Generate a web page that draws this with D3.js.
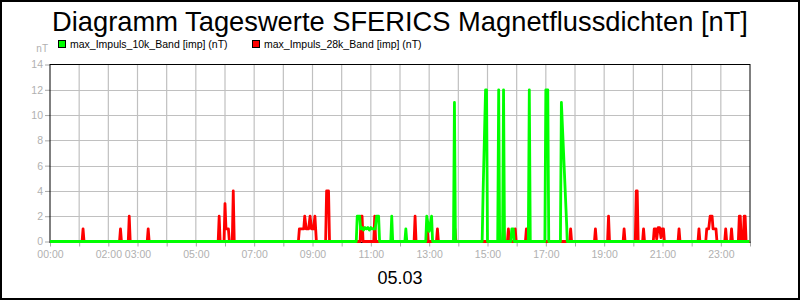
<!DOCTYPE html>
<html>
<head>
<meta charset="utf-8">
<script src="https://cdn.jsdelivr.net/npm/d3@7"></script>
<style>
  html, body { margin: 0; padding: 0; background: #fff; }
  svg { display: block; font-family: "Liberation Sans", Arial, sans-serif; }
</style>
</head>
<body>
<svg id="chart" width="800" height="300"></svg>
<script>
// ---------------- data ----------------
const chartTitle = "Diagramm Tageswerte SFERICS Magnetflussdichten [nT]";
const dateLabel = "05.03";
const unitLabel = "nT";
const seriesNames = ["max_Impuls_10k_Band [imp] (nT)", "max_Impuls_28k_Band [imp] (nT)"];
const seriesColors = ["#00ff00", "#ff0000"];
const yTicks = [0, 2, 4, 6, 8, 10, 12, 14];
const xTickLabels = ["00:00", "02:00", "03:00", "05:00", "07:00", "09:00", "11:00", "13:00", "15:00", "17:00", "19:00", "21:00", "23:00"];

// max_Impuls_10k_Band (green)
const times10k = ["00:00",
  "10:30","10:32","10:37","10:39","10:42","10:45","10:48","10:51","10:54","10:57","11:00","11:03","11:09","11:12","11:16","11:18",
  "11:41","11:43","11:45",
  "12:10","12:12","12:14",
  "12:53","12:55","13:00","13:05","13:07",
  "13:50","13:52","13:54",
  "14:49","14:51","14:56","14:58","15:00",
  "15:21","15:23","15:25",
  "15:31","15:33","15:35",
  "15:48","15:50","15:53","15:55",
  "16:24","16:26","16:28",
  "16:58","17:00","17:04","17:06",
  "17:30","17:32","17:43","17:44",
  "23:59"];
const values10k = [0,
  0,2,2,1,1.1,0.9,1.1,1,1.1,0.9,1.1,1,1,2,2,0,
  0,2,0,
  0,1,0,
  0,2,0.8,2,0,
  0,11,0,
  0,4,12,12,0,
  0,12,0,
  0,12,0,
  0,1,1,0,
  0,12,0,
  0,12,12,0,
  0,11,1.2,0,
  0];

// max_Impuls_28k_Band (red)
const times28k = ["00:00",
  "01:06","01:08","01:10",
  "02:23","02:25","02:27",
  "02:41","02:43","02:45",
  "03:20","03:22","03:24",
  "05:46","05:48","05:50",
  "05:58","06:00","06:02","06:07","06:09",
  "06:15","06:17","06:19",
  "08:31","08:33","08:42","08:44","08:47","08:52","08:55","08:58","09:02","09:05","09:08",
  "09:27","09:29","09:33","09:35",
  "10:38","10:40","10:42","10:44",
  "11:06","11:08","11:10",
  "12:29","12:31","12:33",
  "12:54","12:56","12:58",
  "13:15","13:17","13:19",
  "13:51","13:53","13:55",
  "15:31","15:33","15:35",
  "15:41","15:43","15:45",
  "15:55","15:57","15:59",
  "16:18","16:20","16:22",
  "17:49","17:51","17:53",
  "18:40","18:42","18:44",
  "19:07","19:09","19:11",
  "19:39","19:41","19:43",
  "20:04","20:06","20:08","20:10",
  "20:19","20:21","20:23",
  "20:41","20:43","20:46","20:48","20:51","20:54","20:57","20:59","21:02","21:04",
  "21:32","21:34","21:36",
  "22:13","22:15","22:17",
  "22:29","22:31","22:35","22:38","22:42","22:44","22:50","22:52",
  "23:08","23:10","23:12",
  "23:20","23:22","23:24",
  "23:36","23:38","23:40","23:42",
  "23:46","23:48","23:50","23:52",
  "23:59"];
const values28k = [0,
  0,1,0,
  0,1,0,
  0,2,0,
  0,1,0,
  0,2,0,
  0,3,1,1,0,
  0,4,0,
  0,1,1,2,1,1,2,1,1,2,0,
  0,4,4,0,
  0,2,2,0,
  0,2,0,
  0,2,0,
  0,1,0,
  0,1,0,
  0,1,0,
  0,1,0,
  0,1,0,
  0,1,0,
  0,1,0,
  0,1,0,
  0,1,0,
  0,2,0,
  0,1,0,
  0,4,4,0,
  0,1,0,
  0,1,1,0.2,1.1,1.1,0.3,1,1,0,
  0,1,0,
  0,1,0,
  0,1,1,2,2,1,1,0,
  0,1,0,
  0,1,0,
  0,2,2,0,
  0,2,2,0,
  0];

// ---------------- drawing ----------------
const W = 800, H = 300;
const plot = { left: 50, right: 750, top: 64.5, bottom: 241.5 };
const svg = d3.select("#chart");
const parseT = d3.timeParse("%H:%M");
const day0 = parseT("00:00");
const day1 = d3.timeDay.offset(day0, 1);

const x = d3.scaleTime().domain([day0, day1]).range([plot.left, plot.right]);
const y = d3.scaleLinear().domain([0, 14]).range([plot.bottom, plot.top]);

svg.append("rect").attr("x", 0).attr("y", 0).attr("width", W).attr("height", H).attr("fill", "#fff");

// title
svg.append("text").attr("x", 400).attr("y", 31).attr("text-anchor", "middle")
  .attr("font-size", 27.3).attr("fill", "#000").text(chartTitle);

// legend
const legendX = [58.5, 252.5];
seriesNames.forEach((name, i) => {
  svg.append("rect").attr("x", legendX[i]).attr("y", 40.5).attr("width", 7).attr("height", 7)
    .attr("fill", seriesColors[i]).attr("stroke", "#000").attr("stroke-width", 1);
  svg.append("text").attr("x", legendX[i] + 11.5).attr("y", 47.5).attr("font-size", 10.5)
    .attr("fill", "#000").text(name);
});

// unit label
svg.append("text").attr("x", 48).attr("y", 51.5).attr("text-anchor", "end")
  .attr("font-size", 10).attr("fill", "#b0b0b0").text(unitLabel);

// grid
const hours = d3.timeHour.range(day0, d3.timeHour.offset(day1, 1));
svg.append("g").selectAll("line").data(hours.filter(h => h > day0 && h < day1)).join("line")
  .attr("x1", d => x(d)).attr("x2", d => x(d)).attr("y1", plot.top).attr("y2", plot.bottom)
  .attr("stroke", "#c0c0c0").attr("stroke-width", 1.2);
svg.append("g").selectAll("line").data(yTicks.filter(v => v > 0 && v < 14)).join("line")
  .attr("x1", plot.left).attr("x2", plot.right).attr("y1", d => Math.round(y(d)) + 0.5).attr("y2", d => Math.round(y(d)) + 0.5)
  .attr("stroke", "#c0c0c0").attr("stroke-width", 1.2);

// axes
const fmt = d3.timeFormat("%H:%M");
const xAxis = d3.axisBottom(x).tickValues(hours.filter(h => h <= day1)).tickSize(5).tickPadding(4)
  .tickFormat(d => xTickLabels.includes(fmt(d)) && d < day1 ? fmt(d) : "");
const gx = svg.append("g").attr("transform", `translate(0,${plot.bottom})`).call(xAxis);
gx.select(".domain").remove();
gx.selectAll(".tick line").attr("stroke", "#a8a8a8");
gx.selectAll(".tick text").attr("fill", "#b0b0b0").attr("font-size", 10.5)
  .attr("font-family", "'Liberation Sans', Arial, sans-serif");

const yAxis = d3.axisLeft(y).tickValues(yTicks).tickSize(5).tickPadding(2);
const gy = svg.append("g").attr("transform", `translate(${plot.left},0)`).call(yAxis);
gy.select(".domain").remove();
gy.selectAll(".tick line").attr("stroke", "#a8a8a8");
gy.selectAll(".tick text").attr("fill", "#b0b0b0").attr("font-size", 10.5)
  .attr("font-family", "'Liberation Sans', Arial, sans-serif");

// plot frame
svg.append("rect").attr("x", plot.left).attr("y", plot.top).attr("width", plot.right - plot.left)
  .attr("height", plot.bottom - plot.top + 1).attr("fill", "none").attr("stroke", "#000").attr("stroke-width", 1);

// series
const line = d3.line().x(d => x(d.t)).y(d => y(d.v));
const series = [
  { times: times28k, values: values28k, color: seriesColors[1], opacity: 1 },
  { times: times10k, values: values10k, color: seriesColors[0], opacity: 1 }
];
series.forEach(s => {
  const pts = s.times.map((t, i) => ({ t: parseT(t), v: s.values[i] }));
  svg.append("path").datum(pts).attr("d", line).attr("fill", "none")
    .attr("stroke", s.color).attr("stroke-width", 2.8).attr("stroke-linejoin", "round")
    .attr("stroke-opacity", s.opacity);
});

// date label
svg.append("text").attr("x", 400).attr("y", 284).attr("text-anchor", "middle")
  .attr("font-size", 18).attr("fill", "#000").text(dateLabel);

// outer border
svg.append("rect").attr("x", 1).attr("y", 1).attr("width", W - 2).attr("height", H - 2)
  .attr("fill", "none").attr("stroke", "#000").attr("stroke-width", 2);
</script>
</body>
</html>
